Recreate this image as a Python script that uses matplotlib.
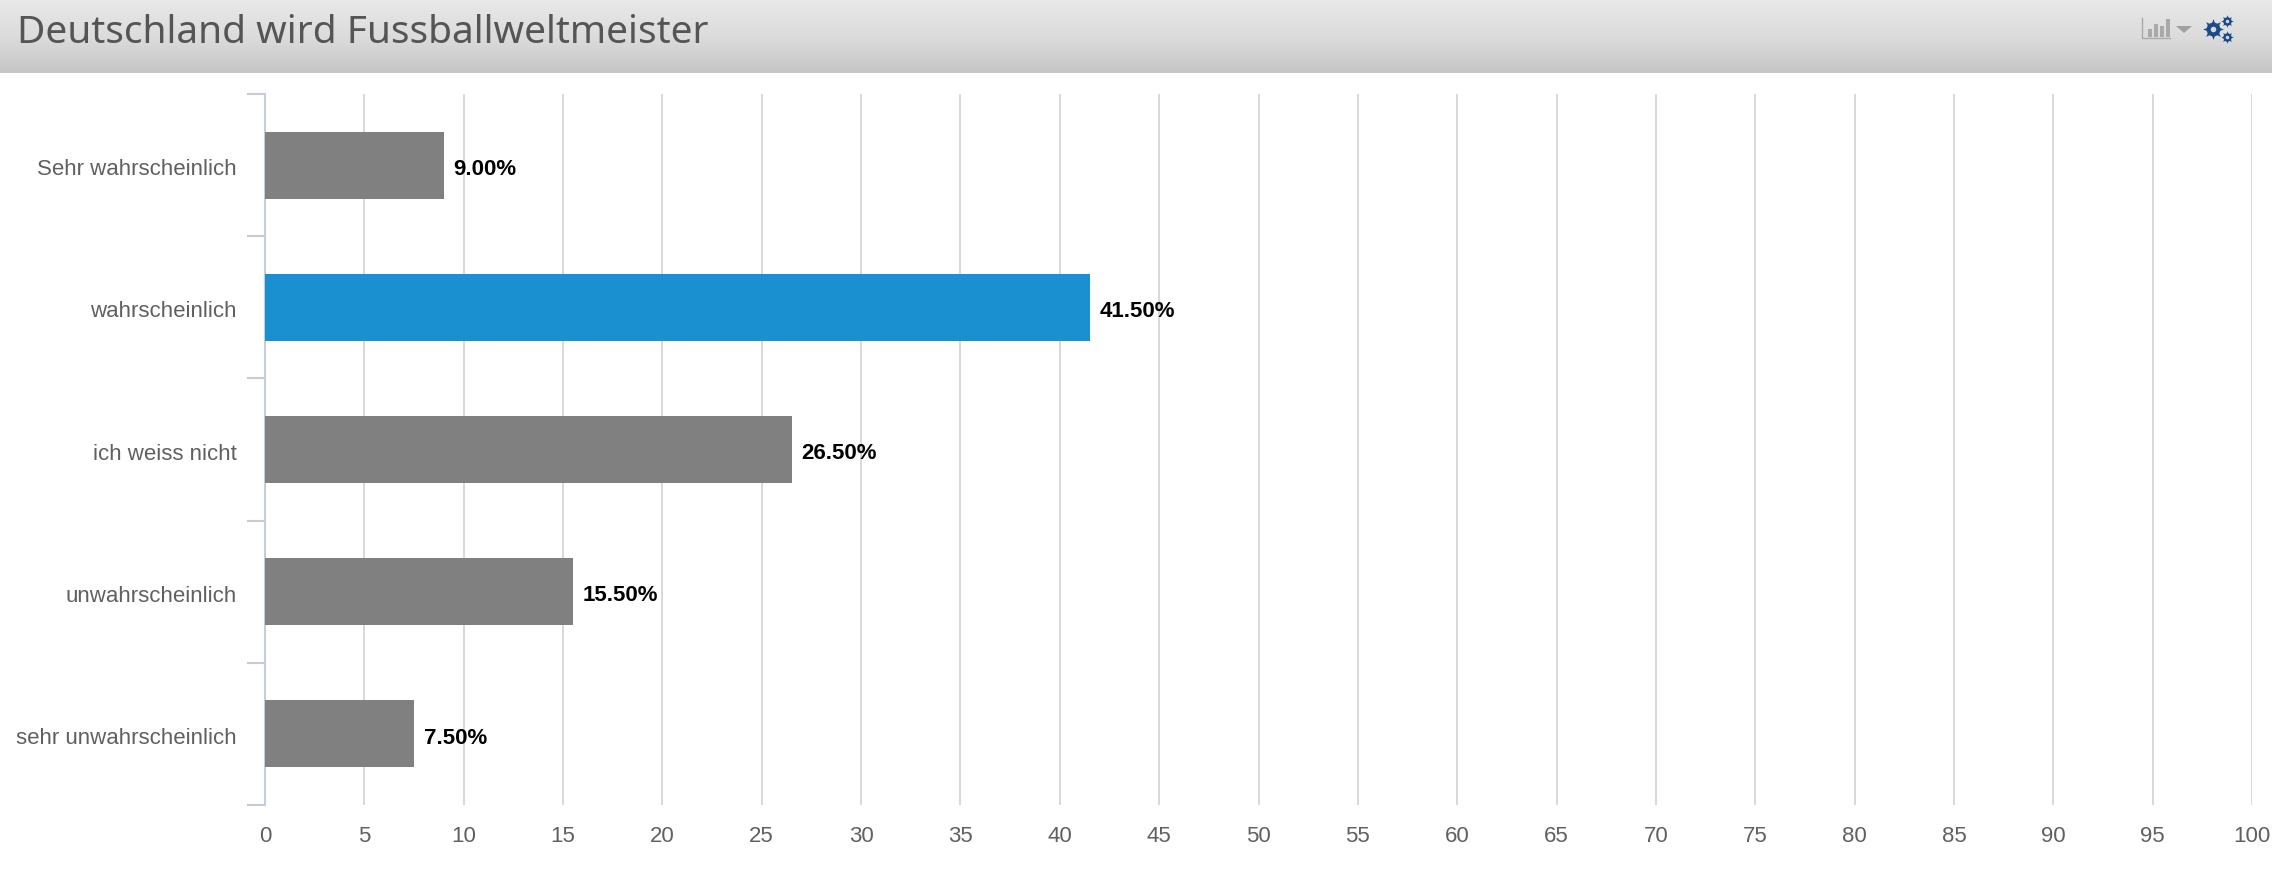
import numpy as np
import matplotlib
matplotlib.use("Agg")
import matplotlib.pyplot as plt
from matplotlib.patches import Rectangle, Polygon
from matplotlib.transforms import ScaledTranslation

title = "Deutschland wird Fussballweltmeister"
categories = ["Sehr wahrscheinlich", "wahrscheinlich", "ich weiss nicht", "unwahrscheinlich", "sehr unwahrscheinlich"]
values = [9.0, 41.5, 26.5, 15.5, 7.5]
bar_colors = ["#808080", "#1a90d0", "#808080", "#808080", "#808080"]
x_ticks = list(range(0, 101, 5))

W, H = 2272, 874
fig = plt.figure(figsize=(W / 100, H / 100), dpi=100, facecolor="white")

# header band
hd = fig.add_axes([0, 1 - 73 / H, 1, 73 / H])
grad = np.linspace(0, 1, 73).reshape(-1, 1)
hd.imshow(grad, aspect="auto", cmap=matplotlib.colors.LinearSegmentedColormap.from_list(
    "h", ["#e8e8e8", "#dcdcdc", "#c6c6c6"]), extent=[0, W, 73, 0])
hd.set_xlim(0, W); hd.set_ylim(73, 0); hd.axis("off")
hd.text(17, 33, title, fontsize=28, family="Noto Sans", color="#555555", va="center", ha="left")
# toolbar icons
for bx, bh in zip([2148, 2154, 2160, 2166], [8, 13, 11, 18]):
    hd.add_patch(Rectangle((bx, 37 - bh), 3.5, bh, color="#a9a9a9", lw=0))
hd.plot([2142, 2142, 2170], [18, 38, 38], color="#a9a9a9", lw=1)
hd.add_patch(Polygon([[2176, 26], [2192, 26], [2184, 33]], color="#a0a0a0", lw=0))
for gx, gy, big, core, hole in [(2213, 29, 15, 10, 4), (2227, 21, 9, 6, 2.5), (2227, 37, 9, 6, 2.5)]:
    hd.plot([gx], [gy], marker=(8, 1, 0), ms=big, color="#1a4a8a", mew=0)
    hd.plot([gx], [gy], marker="o", ms=core, color="#1a4a8a", mew=0)
    hd.plot([gx], [gy], marker="o", ms=hole, color="#d8d8d8", mew=0)

# main chart
ax = fig.add_axes([265 / W, 1 - 805 / H, (2252 - 265) / W, (805 - 94) / H])
y = np.arange(len(categories))
ax.set_xlim(0, 100)
ax.set_ylim(len(categories) - 0.5, -0.5)
ax.set_axisbelow(True)
ax.grid(axis="x", color="#d3d6da", lw=1.3)
bars = ax.barh(y, values, height=0.47, color=bar_colors, lw=0, zorder=3)
for yi, v in zip(y, values):
    ax.annotate(f"{v:.2f}%", (v, yi), xytext=(7, -3), textcoords="offset points",
                fontsize=16, fontweight="bold", family="Liberation Sans",
                color="black", va="center", ha="left", zorder=4)
for s in ["top", "right", "bottom"]:
    ax.spines[s].set_visible(False)
ax.spines["left"].set_color("#c0d0e0")
ax.spines["left"].set_linewidth(1.5)
ax.set_xticks(x_ticks)
ax.set_xticklabels([str(t) for t in x_ticks], fontsize=16, family="Liberation Sans", color="#606060")
ax.tick_params(axis="x", length=0, pad=15)
ax.set_yticks(np.arange(-0.5, len(categories)))
ax.set_yticklabels([])
ax.tick_params(axis="y", length=13, width=1.5, color="#c8ccd2")
ax.set_yticks(y, minor=True)
ax.set_yticklabels(categories, minor=True, fontsize=16, family="Liberation Sans", color="#606060")
ax.tick_params(axis="y", which="minor", length=0, pad=20.5)
shift = ScaledTranslation(0, -1.5 / 72, fig.dpi_scale_trans)
for lab in ax.get_yticklabels(minor=True):
    lab.set_transform(lab.get_transform() + shift)

fig.savefig("out.png", dpi=100)
